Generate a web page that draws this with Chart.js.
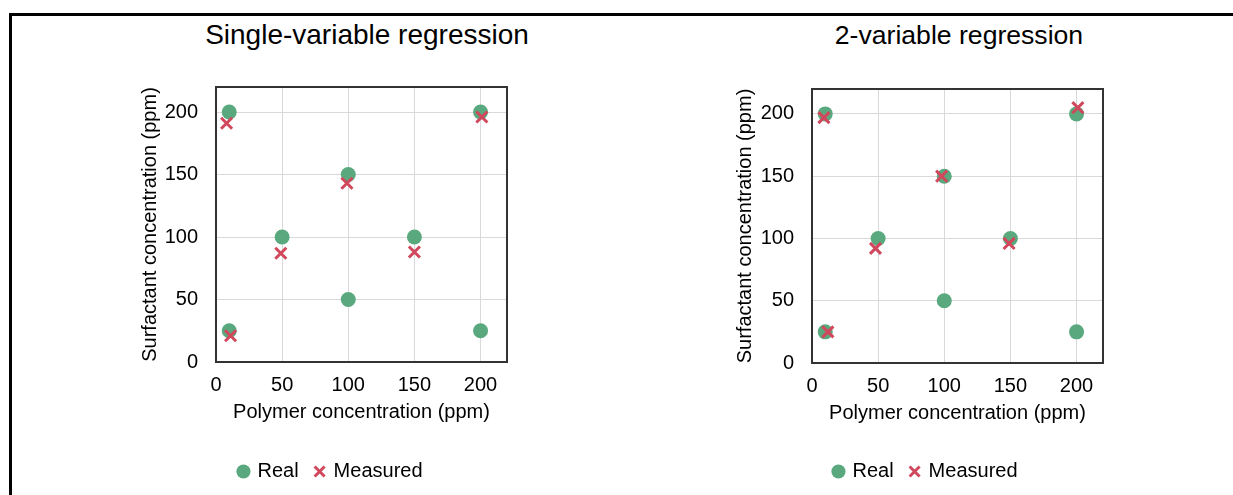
<!DOCTYPE html>
<html>
<head>
<meta charset="utf-8">
<script src="https://cdn.jsdelivr.net/npm/chart.js@4.4.1/dist/chart.umd.min.js"></script>
<style>
    html, body { margin: 0; padding: 0; background: #fff; }
    body { width: 1233px; height: 495px; position: relative; overflow: hidden; font-family: 'Liberation Sans', Arial, sans-serif; }
    .frame { position: absolute; left: 9px; top: 13px; right: -10px; bottom: -10px; border-top: 3px solid #000; border-left: 3px solid #000; }
    .title { position: absolute; top: 19px; width: 400px; text-align: center; font-size: 28px; line-height: 32px; color: #000; }
    .box { position: absolute; top: 0; width: 420px; height: 495px; }
</style>
</head>
<body>
<div class="frame"></div>
<div class="title" style="left: 167px;">Single-variable regression</div>
<div class="title" style="left: 759px; font-size: 26.6px;">2-variable regression</div>
<div class="box" style="left: 100px;"><canvas id="chartSingle"></canvas></div>
<div class="box" style="left: 700px;"><canvas id="chartTwo"></canvas></div>
<script>
// Real sample compositions (same in both panels)
const realPolymer = [10, 10, 50, 100, 100, 150, 200, 200];
const realSurfactant = [200, 25, 100, 150, 50, 100, 200, 25];

// Measured values, single-variable regression
const singlePolymer = [8, 11, 49, 99, 150, 201];
const singleSurfactant = [191, 21, 87, 143, 88, 196];

// Measured values, 2-variable regression
const twoPolymer = [9, 12, 48, 98, 149, 201];
const twoSurfactant = [197, 25, 92, 150, 96, 205];

// Axis ticks
const xTicks = [0, 50, 100, 150, 200];
const yTicks = [0, 50, 100, 150, 200];
const axisMax = 220;

const GREEN = '#5aa97e';
const RED = '#d1485c';
const GRID = '#d9d9d9';

Chart.defaults.font.family = "'Liberation Sans', Arial, sans-serif";
Chart.defaults.color = '#000';

// Box round the plot area
const plotBorder = {
    id: 'plotBorder',
    beforeDatasetsDraw(chart) {
        const { ctx, chartArea: a } = chart;
        ctx.save();
        ctx.strokeStyle = '#333';
        ctx.lineWidth = 2;
        ctx.strokeRect(a.left, a.top, a.right - a.left, a.bottom - a.top);
        ctx.restore();
    }
};

function toPoints(xs, ys) {
    return xs.map((x, i) => ({ x: x, y: ys[i] }));
}

function makeChart(canvasId, measX, measY, geo) {
    return new Chart(document.getElementById(canvasId), {
        type: 'scatter',
        data: {
            datasets: [
                {
                    label: 'Real',
                    data: toPoints(realPolymer, realSurfactant),
                    order: 2,
                    pointStyle: 'circle',
                    pointRadius: 7.5,
                    pointHoverRadius: 7.5,
                    pointBorderWidth: 0,
                    backgroundColor: GREEN,
                    borderColor: GREEN
                },
                {
                    label: 'Measured',
                    data: toPoints(measX, measY),
                    order: 1,
                    pointStyle: 'crossRot',
                    pointRadius: 7.8,
                    pointHoverRadius: 7.8,
                    pointBorderWidth: 3,
                    backgroundColor: RED,
                    borderColor: RED
                }
            ]
        },
        options: {
            responsive: true,
            maintainAspectRatio: false,
            devicePixelRatio: 1,
            animation: false,
            events: [],
            layout: {
                padding: { left: geo.padLeft, right: geo.padRight, top: geo.padTop, bottom: 3.5 }
            },
            plugins: {
                tooltip: { enabled: false },
                legend: {
                    position: 'bottom',
                    labels: {
                        usePointStyle: true,
                        boxWidth: 8,
                        boxHeight: 10,
                        padding: 17,
                        font: { size: 20 },
                        sort: (a, b) => a.datasetIndex - b.datasetIndex
                    }
                }
            },
            scales: {
                x: {
                    type: 'linear',
                    min: 0,
                    max: axisMax,
                    afterBuildTicks: (axis) => { axis.ticks = xTicks.map(v => ({ value: v })); },
                    afterFit: (axis) => { axis.height = geo.xAxisHeight; },
                    ticks: { padding: 11, font: { size: 20 } },
                    grid: { color: GRID, drawTicks: false },
                    border: { display: false },
                    title: {
                        display: true,
                        text: 'Polymer concentration (ppm)',
                        font: { size: 20 },
                        padding: { top: 0, bottom: geo.xTitleBottom }
                    }
                },
                y: {
                    type: 'linear',
                    min: 0,
                    max: axisMax,
                    afterBuildTicks: (axis) => { axis.ticks = yTicks.map(v => ({ value: v })); },
                    afterFit: (axis) => { axis.width = geo.yAxisWidth; },
                    ticks: { padding: 18, font: { size: 20 } },
                    grid: { color: GRID, drawTicks: false },
                    border: { display: false },
                    title: {
                        display: true,
                        text: 'Surfactant concentration (ppm)',
                        font: { size: 20 },
                        padding: { top: geo.yTitleTop, bottom: 0 }
                    }
                }
            }
        },
        plugins: [plotBorder]
    });
}

makeChart('chartSingle', singlePolymer, singleSurfactant, {
    padLeft: 55, padRight: 13, padTop: 87,
    yAxisWidth: 61, xAxisHeight: 82.5, xTitleBottom: 20.5, yTitleTop: -17
});

makeChart('chartTwo', twoPolymer, twoSurfactant, {
    padLeft: 49, padRight: 17, padTop: 89,
    yAxisWidth: 63, xAxisHeight: 81.5, xTitleBottom: 19.5, yTitleTop: -15.5
});
</script>
</body>
</html>
